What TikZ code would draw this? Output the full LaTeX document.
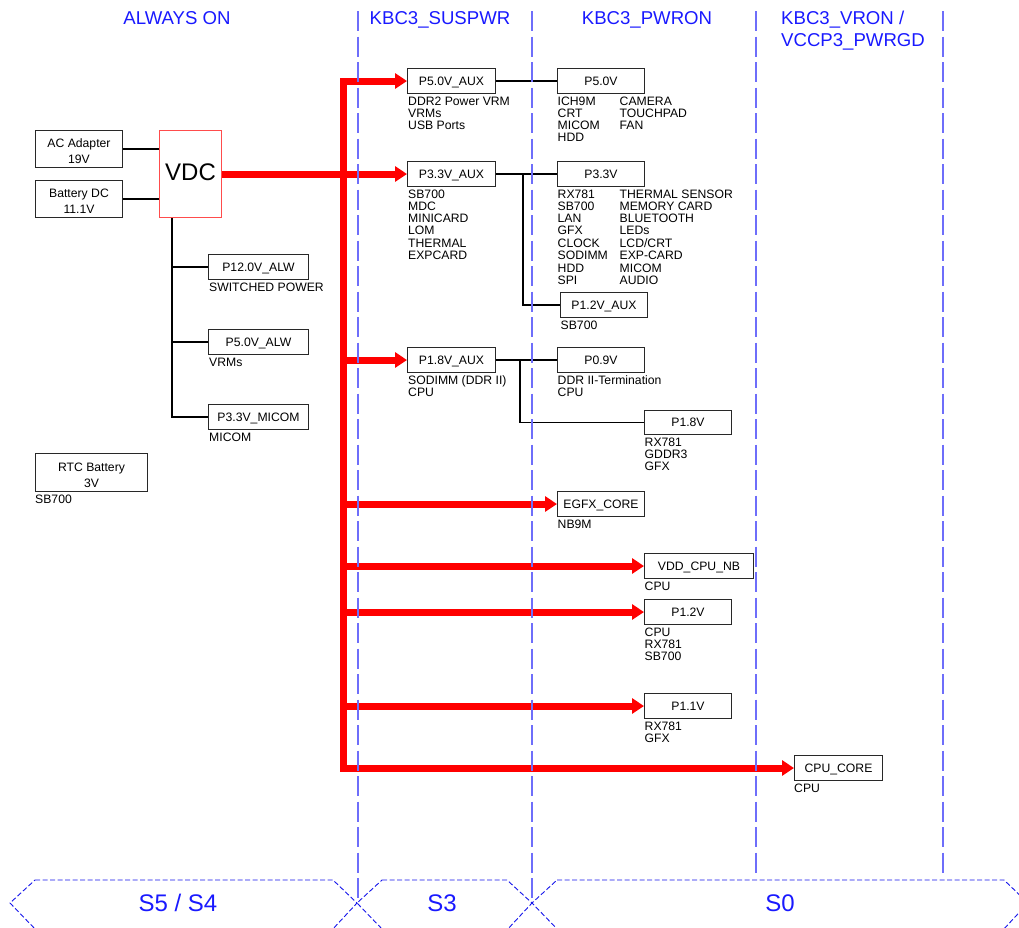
\documentclass[tikz,border=0pt]{standalone}
\usepackage{fontspec}
\setmainfont{Liberation Sans}
\usetikzlibrary{arrows.meta}
\definecolor{hdrblue}{RGB}{25,25,255}
\definecolor{dashblue}{RGB}{110,110,250}
\definecolor{hexblue}{RGB}{20,20,235}
\definecolor{boxgray}{RGB}{40,40,40}
\newcommand\fsz{\fontsize{12.2}{12.3}\selectfont}
\newcommand\fszb{\fontsize{12.2}{16}\selectfont}
\newcommand\mylines[1]{\begin{tabular}[t]{@{}l@{}}#1\end{tabular}}
\newcommand\mytwocol[1]{\begin{tabular}[t]{@{}p{62pt}@{}l@{}}#1\end{tabular}}
\begin{document}
\begin{tikzpicture}[x=1pt,y=-1pt,
 box/.style={draw=boxgray, line width=1pt, inner sep=0pt, anchor=north west, font=\fsz, text height=8.8pt, text depth=0pt, minimum height=25pt},
 twobox/.style={draw=boxgray, line width=1pt, inner sep=0pt, anchor=north west, font=\fszb, text height=10pt, text depth=12.2pt},
 lst/.style={anchor=base west, inner sep=0pt, font=\fsz},
 wire/.style={draw=black, line width=1.5pt},
 feed/.style={draw=red, line width=7pt, -{Triangle[length=12pt,width=15pt]}},
 feedtwo/.style={draw=red, line width=7pt, line join=miter, {Triangle[length=12pt,width=15pt]}-{Triangle[length=12pt,width=15pt]}},
 vline/.style={dashblue, line width=1.3pt, dash pattern=on 20pt off 5.5pt},
 hexs/.style={hexblue, line width=0.9pt, dash pattern=on 5pt off 2.5pt},
 hdr/.style={hdrblue, font=\fontsize{18.6}{21.5}\selectfont, inner sep=0pt, anchor=base},
 stlabel/.style={hdrblue, font=\fontsize{24}{24}\selectfont, inner sep=0pt, anchor=base}]
\useasboundingbox (0,0) rectangle (1019,927);

% headers
\node[hdr] (hAlways) at (177,24.6) {ALWAYS ON};
\node[hdr] (hSus) at (440,24.6) {KBC3\_SUSPWR};
\node[hdr] (hPwr) at (647,24.6) {KBC3\_PWRON};
\node[hdr, anchor=base west] (hVron) at (781,24.6) {\begin{tabular}[t]{@{}l@{}}KBC3\_VRON /\\VCCP3\_PWRGD\end{tabular}};

% left side boxes
\node[twobox, minimum width=87pt, minimum height=37pt] (ac) at (35,130) {\begin{tabular}[t]{@{}c@{}}AC Adapter\\19V\end{tabular}};
\node[twobox, minimum width=87pt, minimum height=37pt] (battery) at (35,180) {\begin{tabular}[t]{@{}c@{}}Battery DC\\11.1V\end{tabular}};
\node[twobox, minimum width=112pt, minimum height=38pt] (rtc) at (35,453) {\begin{tabular}[t]{@{}c@{}}RTC Battery\\3V\end{tabular}};
\node[draw=red!70, line width=1pt, anchor=north west, minimum width=62pt, minimum height=87pt, inner sep=0pt, font=\fontsize{24}{24}\selectfont, text height=17.2pt, text depth=5pt] (vdc) at (159,130) {VDC};

\node[box, minimum width=100pt] (p12alw) at (208,254) {P12.0V\_ALW};
\node[box, minimum width=100pt] (p5alw) at (208,329) {P5.0V\_ALW};
\node[box, minimum width=100pt] (p33micom) at (208,404) {P3.3V\_MICOM};

% suspwr boxes
\node[box, minimum width=88pt] (p5aux) at (407,68) {P5.0V\_AUX};
\node[box, minimum width=88pt] (p33aux) at (407,161) {P3.3V\_AUX};
\node[box, minimum width=88pt] (p18aux) at (407,347) {P1.8V\_AUX};

% pwron boxes
\node[box, minimum width=87pt] (p50) at (557,68) {P5.0V};
\node[box, minimum width=87pt] (p33) at (557,161) {P3.3V};
\node[box, minimum width=87pt] (p12aux) at (560,292) {P1.2V\_AUX};
\node[box, minimum width=87pt] (p09) at (557,347) {P0.9V};
\node[box, minimum width=87pt, minimum height=24pt] (p18) at (644,410) {P1.8V};
\node[box, minimum width=87pt] (egfx) at (557,491) {EGFX\_CORE};
\node[box, minimum width=109pt] (vddnb) at (644,553) {VDD\_CPU\_NB};
\node[box, minimum width=87pt] (p12) at (644,599) {P1.2V};
\node[box, minimum width=87pt] (p11) at (644,693) {P1.1V};
\node[box, minimum width=88pt] (cpucore) at (794,755) {CPU\_CORE};

% lists
\node[lst] (lp12alw) at ([xshift=1pt,yshift=-11pt]p12alw.south west) {SWITCHED POWER};
\node[lst] (lp5alw) at ([xshift=1pt,yshift=-11pt]p5alw.south west) {VRMs};
\node[lst] (lp33micom) at ([xshift=1pt,yshift=-11pt]p33micom.south west) {MICOM};
\node[lst] (lrtc) at ([xshift=0pt,yshift=-11pt]rtc.south west) {SB700};
\node[lst] (lp5aux) at ([xshift=1pt,yshift=-11pt]p5aux.south west) {\mylines{DDR2 Power VRM\\VRMs\\USB Ports}};
\node[lst] (lp33aux) at ([xshift=1pt,yshift=-11pt]p33aux.south west) {\mylines{SB700\\MDC\\MINICARD\\LOM\\THERMAL\\EXPCARD}};
\node[lst] (lp18aux) at ([xshift=1pt,yshift=-11pt]p18aux.south west) {\mylines{SODIMM (DDR II)\\CPU}};
\node[lst] (lp50) at ([xshift=0.5pt,yshift=-11pt]p50.south west) {\mytwocol{ICH9M & CAMERA\\CRT & TOUCHPAD\\MICOM & FAN\\HDD & }};
\node[lst] (lp33) at ([xshift=0.5pt,yshift=-11pt]p33.south west) {\mytwocol{RX781 & THERMAL SENSOR\\SB700 & MEMORY CARD\\LAN & BLUETOOTH\\GFX & LEDs\\CLOCK & LCD/CRT\\SODIMM & EXP-CARD\\HDD & MICOM\\SPI & AUDIO}};
\node[lst] (lp12aux) at ([xshift=0.5pt,yshift=-11pt]p12aux.south west) {SB700};
\node[lst] (lp09) at ([xshift=0.5pt,yshift=-11pt]p09.south west) {\mylines{DDR II-Termination\\CPU}};
\node[lst] (lp18) at ([xshift=0.5pt,yshift=-11pt]p18.south west) {\mylines{RX781\\GDDR3\\GFX}};
\node[lst] (legfx) at ([xshift=0.5pt,yshift=-11pt]egfx.south west) {NB9M};
\node[lst] (lvddnb) at ([xshift=0.5pt,yshift=-11pt]vddnb.south west) {CPU};
\node[lst] (lp12) at ([xshift=0.5pt,yshift=-11pt]p12.south west) {\mylines{CPU\\RX781\\SB700}};
\node[lst] (lp11) at ([xshift=0.5pt,yshift=-11pt]p11.south west) {\mylines{RX781\\GFX}};
\node[lst] (lcpucore) at ([xshift=0pt,yshift=-11pt]cpucore.south west) {CPU};

% black wires
\draw[wire] (ac.east) -- (ac.east -| vdc.west);
\draw[wire] (battery.east) -- (battery.east -| vdc.west);
\coordinate (vtap) at ([xshift=13pt]vdc.south west);
\draw[wire] (vtap) |- (p33micom.west);
\draw[wire] (vtap |- p12alw.west) -- (p12alw.west);
\draw[wire] (vtap |- p5alw.west) -- (p5alw.west);
\draw[wire] (p5aux.east) -- (p50.west);
\draw[wire] (p33aux.east) -- (p33.west);
\coordinate (t33) at (523,0);
\draw[wire] (t33 |- p33aux.east) |- (p12aux.west);
\draw[wire] (p18aux.east) -- (p09.west);
\coordinate (t18) at (520,0);
\draw[wire] (t18 |- p18aux.east) |- (p18.west);

% red power feeds
\coordinate (busx) at (343,0);
\draw[feedtwo] (p5aux.west) -| (busx |- cpucore.west) -- (cpucore.west);
\draw[feed] (vdc.east) -- (p33aux.west);
\draw[feed] (busx |- p18aux.west) -- (p18aux.west);
\draw[feed] (busx |- egfx.west) -- (egfx.west);
\draw[feed] (busx |- vddnb.west) -- (vddnb.west);
\draw[feed] (busx |- p12.west) -- (p12.west);
\draw[feed] (busx |- p11.west) -- (p11.west);

% dashed separators
\draw[vline] (358,11) -- (358,903);
\draw[vline] (532,11) -- (532,903);
\draw[vline] (756,11) -- (756,878);
\draw[vline] (943,11) -- (943,878);

% state hexagons
\begin{scope}
\clip (0,0) rectangle (1019,927);
\draw[hexs] (35,880) -- (333,880) -- (357,903) -- (331,931) -- (37,931) -- (10,903) -- cycle;
\draw[hexs] (382,880) -- (507,880) -- (532,903) -- (506,931) -- (384,931) -- (357,903) -- cycle;
\draw[hexs] (557,880) -- (1004,880) -- (1028,903) -- (1002,931) -- (559,931) -- (532,903) -- cycle;
\end{scope}
\node[stlabel] (s5) at (178,911.6) {S5 / S4};
\node[stlabel] (s3) at (442,911.6) {S3};
\node[stlabel] (s0) at (780,911.6) {S0};
\end{tikzpicture}
\end{document}
